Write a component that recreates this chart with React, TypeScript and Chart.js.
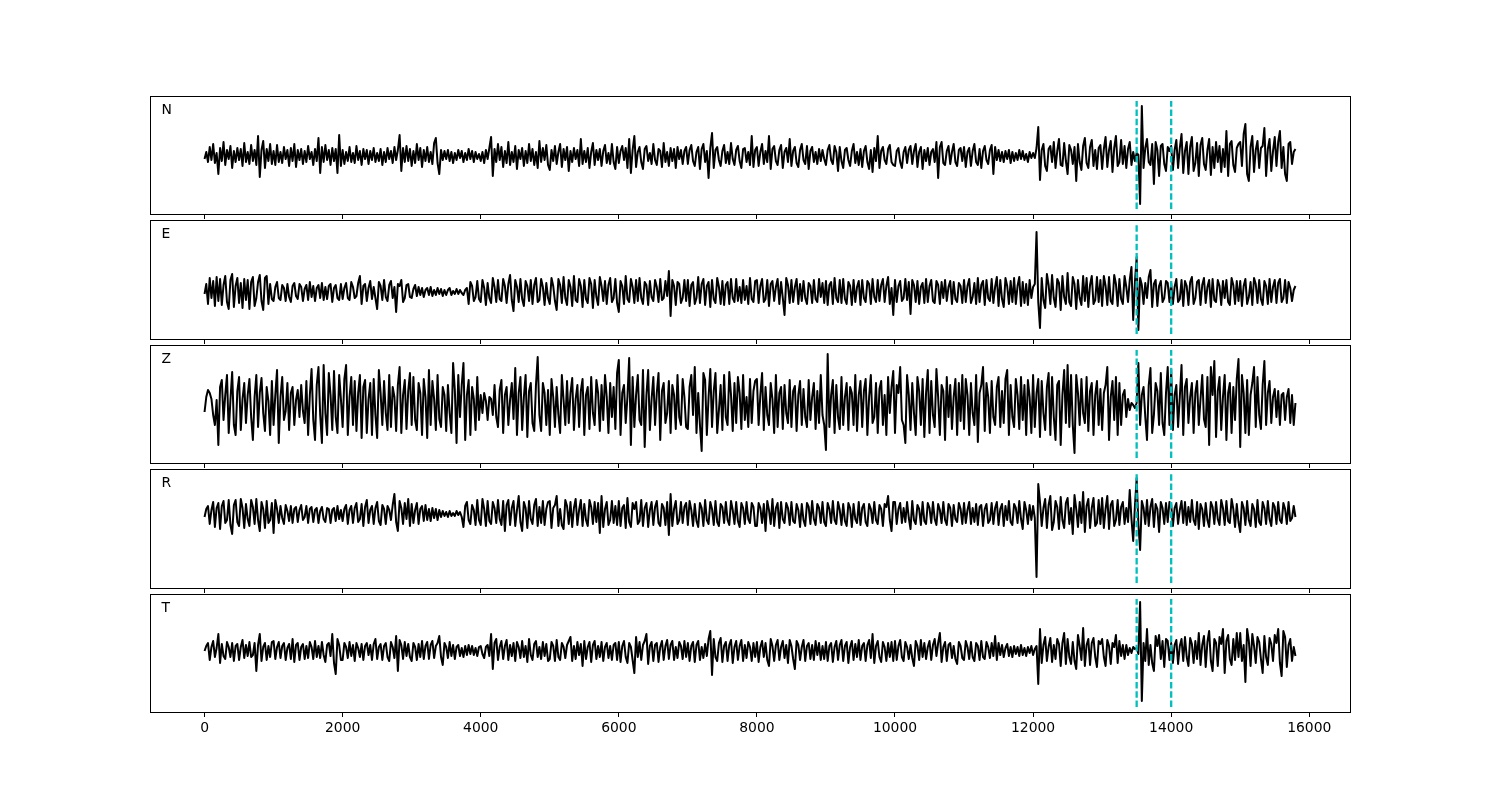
import React, { useEffect, useRef } from "react";
import { Chart, registerables } from "chart.js";

Chart.register(...registerables);

// ---- data ----
const SAMPLE_STEP = 25; // sample spacing along x (samples 0 .. 15800)
const X_MIN = -790;
const X_MAX = 16590;
const X_TICKS = [0, 2000, 4000, 6000, 8000, 10000, 12000, 14000, 16000];
const PICKS = [13500, 14000];
const PANEL_LABELS = ["N", "E", "Z", "R", "T"];

const TRACE_N = [
  -3, 4, -6, 9, -4, 12, -7, 3, -18, 8,
  -5, 14, -9, 6, -3, 10, -12, 5, -6, 8,
  -4, 7, -10, 13, -6, 4, -8, 11, -5, 6,
  -9, 20, -21, 6, 15, -12, 7, -5, 12, -8,
  5, -9, 11, -6, 4, -7, 9, -3, 6, -10,
  8, -5, 12, -11, 6, -4, 7, -8, 5, -6,
  10, -3, 4, -9, 7, -5, 18, -17, 9, -6,
  11, -4, 6, -9, 8, -5, 7, -17, 21, -10,
  6, -8, 4, -5, 9, -6, 3, -7, 10, -4,
  5, -9, 7, -3, 6, -8, 5, -4, 8, -6,
  3, -5, 7, -9, 4, -6, 8, -3, 5, -7,
  9, -4, 6, 21, -15, 8, -6, 10, -5, 7,
  -10, 5, -7, 12, -4, 8, -11, 6, -5, 9,
  -6, 4, -8, 13, 18, -7, -18, 6, -4, 5,
  -3, 6, -5, 4, -7, 3, -4, 6, -2, 5,
  -6, 3, -4, 7, -3, 5, -6, 4, -3, 2,
  -5, 4, -7, 6, -3, 8, 19, -20, 7, -6,
  12, -4, 9, -11, 5, -7, 14, -9, 4, -6,
  10, -13, 6, -3, 8, -10, 5, -7, 12, -5,
  7, -9, 4, -12, 15, -6, 8, -4, 11, -9,
  -14, 6, -5, 10, -8, 4, 12, -11, 7, -4,
  9, -15, 5, -6, 8, -3, 6, -10, 17, -8,
  5, -6, 8, -12, 4, 13, -9, 6, -4, 7,
  -10, 5, 11, -7, 3, -8, 12, -6, -13, 9,
  -7, 5, 10, -4, 8, -12, 17, -17, 6, 20,
  -11, 4, 9, -6, -13, 7, 10, -5, 3, -8,
  12, -4, -9, 7, 5, -11, 13, -6, 4, -10,
  8, -5, 7, -12, 9, -3, 6, -8, 5, 9,
  -8, 6, 11, -5, -10, 4, 9, -13, 7, 12,
  -6, 5, -22, 8, 23, -12, 6, 9, -4, -10,
  5, 11, -7, 4, -8, 13, -3, -9, 6, 10,
  -5, -12, 7, 8, -6, 4, -9, 20, -11, 6,
  9, -10, 4, 12, -8, 5, -6, 20, -13, 7,
  10, -5, -9, 6, 11, -12, 4, 8, -6, 17,
  -10, 5, 9, -7, -11, 6, 12, -4, -8, 10,
  -13, 5, 9, -6, 4, -8, 7, -5, 6, -3,
  -9, 6, 11, -4, -8, 10, 4, -15, 9, -5,
  -12, 6, 8, -4, -10, 5, 12, -7, 4, -9,
  7, -11, 5, 10, -6, -13, 6, -16, 8, -5,
  20, -12, 5, 9, -4, -8, 7, 11, -6, -9,
  -10, 5, 8, -6, -12, 4, 9, -7, 6, 10,
  -8, 5, 12, -11, 4, 9, -13, 6, -5, 8,
  -9, 4, 7, -6, 14, -22, 9, 14, -7, -9,
  5, 10, -8, 4, 12, -6, -10, 6, 8, -5,
  9, -11, 4, 8, -10, 5, 12, -6, -9, 7,
  -12, 5, 10, -4, -8, 6, 11, -18, 9, -4,
  6, -5, 4, -6, 5, -3, 6, -7, 4, -5,
  3, -4, 6, -3, 5, -4, 2, -6, 4, -2,
  3, -2, 8, 29, -24, 6, 12, -10, -15, 7,
  10, -6, 14, -12, 5, 17, -9, -10, 13, -5,
  -18, 11, 6, -8, 9, -25, 12, -6, -14, 10,
  18, -7, -12, 9, 16, -10, 6, -13, 8, 11,
  -13, 7, 19, -11, 6, 15, -16, 8, 20, -10,
  -6, 16, -8, 10, -12, 7, 14, -9, 4, -5,
  3, 1, -48, 50, -12, 8, 17, -6, -9, 12,
  -28, 14, 6, -20, 10, 12, -8, -15, 9, 5,
  10, -14, 6, 16, -12, 8, 22, -17, 5, 14,
  -18, 9, 19, -15, -7, 13, -20, 11, 18, -8,
  -14, 6, 17, -19, 9, -12, 14, -6, 10, -16,
  7, -11, 25, -20, 12, 15, -9, -16, 8, 12,
  14, -10, 22, 32, -18, -25, 9, 20, -16, 6,
  15, -12, 8, 10, 28, -20, 7, 17, -15, 5,
  19, -10, 14, 25, -12, 9, -18, -25, 12, 14,
  -8, 4, 7,
];

const TRACE_E = [
  -2, 8, -12, 14, -6, 11, -14, 15, -9, 13,
  -13, 7, 16, -10, -17, 12, 18, -15, 6, 14,
  -11, 9, -16, 13, -8, 12, -17, 10, 15, -14,
  -6, 10, 17, -9, -18, 14, 16, -12, 8, -7,
  -9, 5, 10, -6, -8, 7, 4, -9, 8, -5,
  -10, 6, 9, -4, -7, 8, 5, -9, 3, 7,
  -8, 10, -5, 6, -9, 4, 7, -6, 9, -8,
  5, -7, 6, 8, -10, 4, 7, -6, -8, 8,
  -7, 4, 9, -6, -8, 10, 5, -6, -4, 9,
  16, -12, 6, 8, -9, 4, 11, -7, 5, -6,
  -17, 10, 6, -8, 12, -5, -9, 7, 11, -6,
  5, -20, 8, 6, 12, -10, -6, 7, 8, -5,
  -6, 3, 7, -4, 5, -3, 4, -5, 2, 4,
  -3, 5, -4, 2, -3, 4, -2, 3, -4, 2,
  -3, 2, 4, -3, 1, -2, 3, -2, 2, -1,
  -3, 2, 4, -12, 10, 6, -9, -5, 11, -7,
  -10, 12, 4, -13, 9, -6, -11, 14, 5, -10,
  12, -7, -9, 13, 6, -11, 8, 17, -8, -19,
  12, 5, -10, 13, -7, -14, 11, 6, -9, 12,
  -12, 7, 14, -10, -8, 13, 5, -13, 9, -6,
  -12, 14, 6, -9, -18, 13, 7, -11, 15, -6,
  -13, 12, 5, -14, 16, -8, -10, 13, 6, -15,
  12, -7, -11, 14, 8, -16, 12, -5, -13, 15,
  6, -9, 11, -12, 7, 14, -10, -6, 13, -11,
  -20, 11, 6, -12, 16, -7, -10, 13, 5, -11,
  12, -9, 14, -6, -12, 10, 7, -13, 11, -5,
  -9, 12, 5, -10, 13, -8, -6, 11, -4, 21,
  -24, 12, 6, -13, 10, 8, -11, -6, 12, -9,
  12, -14, 7, 10, -12, -6, 15, -11, 8, 13,
  -13, 6, 10, -15, 12, -7, -11, 14, 5, -12,
  11, -13, 7, 10, -12, 13, -6, -10, 13, -9,
  5, -11, 12, -8, 6, -12, 14, -7, -10, 11,
  12, -11, 6, 13, -10, -7, 12, -14, 8, 11,
  -9, 5, 13, -12, 10, -6, -23, 14, 7, -11,
  12, -10, 5, 13, -12, 8, -9, 11, -6, -12,
  9, 6, -11, 12, -7, -10, 13, -5, 9, -11,
  11, -13, 7, 10, -12, 14, -6, -10, 12, -11,
  13, -7, -12, 10, 6, -13, 12, -10, 5, 11,
  -13, 12, -6, -10, 11, 8, -12, 13, -5, -10,
  12, -9, 7, 13, -10, 6, 15, -12, 4, -23,
  12, -10, 6, 11, -9, -6, 13, -8, 10, -22,
  12, 7, -10, 11, -12, 5, 9, -11, 13, -10,
  6, 12, -9, -11, 11, 7, -12, 10, -6, 12,
  -9, 5, 11, -12, 10, -7, -10, 9, 6, -11,
  12, -10, 6, 13, -11, -5, 9, -12, 14, -10,
  7, 11, -13, 12, -6, -9, 13, -11, 5, 15,
  -14, 12, -7, -15, 14, 6, -12, 11, -10, 14,
  -12, 6, 15, -14, 10, -11, 8, -13, 12, -6,
  5, 8, 60, -10, -36, 14, -8, -16, 18, 7,
  -12, 17, -6, -15, 13, 9, -18, 16, -5, -12,
  19, -10, -14, 15, 8, -17, 12, -6, -13, 16,
  -9, 14, -15, 7, 16, -12, -8, 15, -10, 12,
  -14, 16, 6, -13, 15, -9, -12, 17, 8, -14,
  13, -7, -12, 16, 5, -10, 12, 25, -28, 10,
  35, -38, 14, 7, -12, 9, -6, 15, 22, -15,
  8, 12, -14, 6, 11, -10, -6, 11, 9, -10,
  9, -12, 5, 13, -10, -7, 12, -14, 11, 6,
  -13, 10, 15, -12, -6, 10, 12, -13, 7, 14,
  -11, 5, 12, -15, 13, -8, -10, 12, 6, -13,
  11, -6, 12, -10, -13, 14, 7, -12, 11, -9,
  11, -14, 6, 13, -12, -5, 10, -13, 14, 8,
  -11, 12, -7, -13, 11, 6, -12, 13, -10, 5,
  12, -11, 9, 13, -10, -6, 12, -11, 10, 4,
  -9, 2, 6,
];

const TRACE_Z = [
  -7, 8, 15, 12, 6, -10, -20, 5, -40, 18,
  25, -15, 10, 30, -28, 5, 33, -20, -30, 14,
  28, -25, 6, 22, -18, 10, 26, -12, -35, 8,
  30, -22, 12, 27, -8, -26, 18, 4, -30, 24,
  -20, 10, 35, -38, 8, 28, -15, -6, 22, -25,
  12, 18, -20, 5, 15, -12, 20, -6, -18, 24,
  -30, 10, 36, -15, -35, 20, 38, -10, -38, 40,
  -8, -30, 32, 10, -25, 34, -12, -28, 30, 6,
  -22, 26, 40, -30, 8, 28, -20, 24, -26, 12,
  30, -33, 18, 25, -28, 6, 22, -30, 26, -10,
  -33, 35, 12, -20, 24, -8, -25, 30, -22, 18,
  8, -26, 20, 38, -28, 10, 25, -24, 14, 32,
  -20, 28, -15, -25, 22, 12, -30, 26, 8, -33,
  35, -20, 24, 6, -25, 30, -14, -22, 18, 10,
  -26, 20, -8, -28, 42, 15, -38, 30, -12, 20,
  42, -35, 10, 25, -30, 18, 6, -25, 28, -15,
  10, -8, 12, 4, -15, 8, 6, -10, 20, -12,
  -22, 15, 25, -28, 10, 18, -20, 5, 22, -14,
  37, -30, 12, 28, -25, 8, 30, -32, 14, 22,
  -18, -26, 20, 48, -10, -26, 22, 12, -20, 15,
  -30, 26, 8, -22, 18, -10, -28, 30, 5, -20,
  24, -18, 12, 27, -25, 6, 20, -22, 14, 26,
  -30, 10, 18, -24, 28, -8, -20, 25, 12, -26,
  20, -15, 30, 8, -28, 22, -12, 18, -24, 32,
  45, -30, 12, 20, -18, 8, 47, -40, 28, -22,
  10, 30, -15, -20, 35, -42, 10, 35, -25, 6,
  28, -20, 12, 32, -35, 14, 22, -18, -8, 24,
  -28, 20, 10, -24, 30, -12, -20, 26, 8, -22,
  -24, 18, 30, -10, 38, -28, 12, -20, -46, 32,
  25, -30, 8, 36, -22, 14, 32, -28, -5, 20,
  -25, 30, -12, -20, 33, 10, -26, 22, -18, 28,
  12, -24, 30, -15, 8, -22, 26, -18, 14, 24,
  26, -20, 10, 32, -25, 18, -10, -20, 22, 6,
  -28, 30, -22, 12, 18, -24, 20, -8, -18, 25,
  -22, 14, 19, -26, 10, 24, -20, 16, -12, -22,
  25, -15, 8, 22, -24, 14, -18, 30, -10, -20,
  -45, 51, -22, 10, 25, -28, 20, -12, -24, 28,
  -20, 8, 22, -25, 18, 12, -20, 30, -26, 10,
  24, -22, 14, 26, -30, 8, 30, -18, -12, 22,
  -28, 16, 24, -20, 10, -30, 28, -8, 18, 34,
  -28, 20, 12, 38, -15, -20, -38, 30, 10, -25,
  22, -8, -30, 28, 14, -20, 26, -32, 12, 35,
  -28, 24, -10, -22, 36, 8, -30, 20, 14, -35,
  28, -12, 20, -24, 8, 26, -30, 22, -16, 30,
  -24, 26, 10, -30, 22, -8, -20, 30, -37, 12,
  20, 38, -26, 22, 8, -28, 24, -12, -20, 18,
  28, -22, 14, -18, 26, 35, -30, 20, -12, -22,
  26, 10, -24, 28, -15, 20, -30, 25, 8, -28,
  30, -22, 12, 26, -32, 24, -8, -25, 18, 32,
  -30, 28, -12, -35, 20, 24, -40, 10, 35, -18,
  40, -22, 30, -20, -48, 30, 12, -20, 26, -8,
  -18, 28, -26, 14, 22, -30, 10, 24, -20, 16,
  -25, 12, 20, 38, -35, 8, 24, -15, 28, -30,
  22, -20, 10, 15, -12, 6, -5, 2, 0, -3,
  2, 42, -20, 10, 18, -12, -35, 20, 37, -28,
  -10, 22, 14, -20, 32, -18, -30, 12, 38, -20,
  36, -25, 10, 20, -22, 8, 40, -30, 18, 26,
  -18, 8, 22, -28, 12, 24, -20, 6, 30, -14,
  -22, 28, -40, 38, 10, 44, -32, 14, 28, -25,
  8, 30, -35, 12, 22, -28, 18, -15, 26, 46,
  -42, 30, 12, -28, 25, -30, 10, 22, 38, -22,
  28, -10, -24, 20, 44, -20, 12, 24, -18, 8,
  16, -12, 14, -20, 10, 12, -15, 8, 16, -18,
  10, -20, 2,
];

const TRACE_R = [
  -3, 5, 8, -10, 4, 12, -13, 6, 11, -15,
  8, 13, -9, -6, 14, -11, -20, 9, 14, -8,
  -12, 15, 6, -14, 10, -5, -12, 14, 7, -10,
  15, -6, -17, 12, 5, -14, 13, -9, -6, 11,
  -19, 14, 5, -9, 8, -4, -10, 9, 3, -7,
  8, -9, 5, 7, -8, 4, 9, -6, -3, 8,
  -9, 5, 7, -8, 4, 6, -9, 3, 7, -5,
  -8, 6, 5, -9, 4, 6, -7, 8, -5, 4,
  -7, 5, 9, -10, 4, 8, -9, 6, 11, -8,
  -5, 10, -12, 7, 14, -9, 4, 8, -10, 6,
  12, -7, -11, 9, 5, -10, 8, 4, -6, 9,
  20, -8, -17, 13, 6, -10, 11, -5, 15, -12,
  10, -9, 4, 11, -10, 5, 8, -7, 9, -6,
  5, -7, 6, -4, 5, -6, 4, -3, 3, -2,
  2, -3, 3, -2, 1, -2, 3, -1, 2, -3,
  -13, 8, 12, -6, -10, 9, 4, -11, 14, -6,
  -11, 15, 5, -12, 13, -7, -10, 12, 6, -9,
  14, -5, -11, 13, -17, 9, 14, -11, 6, 13,
  -12, 4, 18, -8, -17, 12, 6, -14, 13, -5,
  -10, 9, 15, -12, 7, -9, 13, -11, 5, 12,
  13, -14, 6, 9, 18, -12, 5, -11, -15, 14,
  8, -10, 12, -13, 6, 15, -11, 4, 14, -12,
  10, -6, -12, 14, 7, -10, 12, -8, 11, -19,
  18, -13, 5, 12, -11, -6, 13, -9, 8, -11,
  13, -12, 6, 9, -14, 16, -8, -13, 11, 5,
  12, -10, -7, 14, -12, 6, 11, -13, 4, 12,
  -11, 7, 13, -9, -12, 10, 6, -11, 12, -21,
  20, -12, 5, 13, -10, -6, 12, -9, 7, 11,
  -11, 13, 4, -12, 10, -7, -13, 11, 6, -12,
  14, -6, -10, 12, 5, -11, 13, -8, -12, 10,
  7, -9, 12, -6, -11, 13, 4, -10, 12, -7,
  -13, 11, 6, -10, 12, -5, -9, 11, 7, -12,
  -12, 11, 6, -9, 10, -17, 13, 4, -10, 15,
  -12, 6, 11, -14, 12, -5, -9, 11, 6, -11,
  12, -7, -9, 10, 4, -13, 10, -6, -12, 11,
  7, -10, 13, -5, -11, 10, 6, -9, 12, -8,
  -12, 11, 5, -9, 13, -6, -10, 12, 4, -11,
  10, -7, -12, 11, 6, -13, 10, -5, -9, 12,
  -11, 6, 10, -8, -12, 10, 5, -9, 12, -6,
  -10, 9, 5, -12, 10, 7, 18, -6, -17, 12,
  12, -10, 5, 11, -9, 6, -8, 12, -4, -15,
  13, -6, -10, 9, 5, -11, 12, -7, -10, 11,
  6, -9, 12, -5, -11, 10, 4, -9, 12, -6,
  -11, 10, 6, -12, 9, -5, -8, 11, 5, -10,
  11, -9, 4, 12, -10, 6, -8, 10, -11, 7,
  9, -12, 5, 10, -9, -6, 11, -10, 6, 12,
  -11, 5, 10, -12, 8, -6, 13, -8, -11, 10,
  6, -9, 13, -5, -15, 12, 4, -10, 9, -6,
  8, -4, -63, 30, 12, -12, 6, 15, -14, 9,
  18, -16, -8, 13, 7, -15, 17, -6, -14, 11,
  16, -10, 6, -20, 19, 5, -13, 12, -9, 22,
  -18, 8, 15, -14, 6, 16, -12, -9, 14, -10,
  16, -14, 5, 18, -15, 9, 13, -12, -6, 14,
  -11, 7, 12, -10, 6, -8, 24, -5, -27, 8,
  36, -10, -36, 13, 6, -10, 14, -12, 7, 15,
  -13, 10, 5, -18, 12, 6, -10, 11, -8, 12,
  10, -12, 6, 11, -10, 4, 13, -9, 12, -11,
  7, -8, 14, -6, -11, 12, -15, 10, 5, -12,
  11, -6, -13, 12, 7, -10, 12, -5, -11, 14,
  6, -11, 13, -7, -9, 15, 5, -13, 10, -8,
  -18, 12, 6, -11, 13, -6, -12, 10, 5, -13,
  14, -8, -11, 12, 6, -10, 13, -5, -12, 11,
  7, -10, 12, -6, -9, 11, 5, -10, 12, -7,
  -4, 8, -3,
];

const TRACE_T = [
  0, 5, 8, -9, 4, 10, -6, 3, 17, -12,
  7, -5, -8, 9, 4, -6, 8, -10, 5, 7,
  -9, 4, 11, -7, 6, -5, 9, -6, -4, 8,
  -20, 6, 17, -10, 4, 8, -9, 5, -6, 9,
  10, -8, 4, 9, -7, 5, 8, -9, 3, 7,
  -8, 12, -11, 6, 8, -9, 4, 7, -8, 5,
  -7, 9, 4, -8, 10, -6, 5, -7, 9, -4,
  -11, 6, 8, -5, 17, -12, -23, 12, 6, -9,
  -9, 8, 4, -7, 9, -5, 6, -10, 8, 3,
  -6, 7, -9, 5, 8, -4, 6, -9, 7, 12,
  -8, 4, 7, -9, 5, 8, -6, -10, 9, 4,
  -7, 15, -20, 11, 6, -8, 9, -5, 7, -6,
  -10, 8, 4, -9, 7, -6, 10, -8, 5, 9,
  -8, 6, 10, -7, 5, 8, 15, -6, -14, 8,
  4, -7, 9, -5, 6, -8, 4, 6, -5, 3,
  -6, 5, -4, 6, -3, 5, -4, 3, -5, 4,
  5, -3, -7, 4, 6, -5, 17, -18, 8, 12,
  -9, 4, 10, -8, 5, 11, -9, 6, -5, 8,
  -10, 9, 4, -7, 10, -6, 5, -11, 12, -4,
  -9, 7, 10, -6, 4, -8, 9, -5, 7, -10,
  -8, 9, 5, -10, 11, -6, -9, 8, 4, -7,
  6, 10, 14, -10, 5, -8, 9, -4, 7, -15,
  10, -8, 4, 9, -11, 6, 10, -8, 5, -6,
  9, -10, 4, 8, -7, 5, -9, 6, 8, -9,
  9, -11, 5, 10, -6, -12, 8, 4, -9, -22,
  14, -6, 9, -9, 6, 10, 17, -13, 5, 9,
  -10, 6, 8, -11, 4, 10, -9, 5, 11, -8,
  6, 10, -9, 4, -7, 9, 5, -8, 10, -6,
  8, -10, 5, 9, -11, 6, 10, -9, 4, -7,
  7, -5, 12, 20, -24, 12, -6, -10, 8, 13,
  -11, 5, 9, -10, 6, 11, -12, 4, 10, -9,
  5, 11, -10, 6, -7, 9, 4, -10, 8, -6,
  9, -11, 4, 10, -6, 8, -9, -15, 12, 5,
  -10, 6, 11, -9, 4, 10, -7, 6, -12, 11,
  5, -8, -18, 10, 6, -9, 4, 11, -10, 5,
  8, -8, 6, -9, 10, -4, 8, -9, 5, -8,
  9, -10, 5, 8, -11, 4, 10, -9, 6, 11,
  -10, 5, 9, -12, 4, 10, -9, 7, -6, 11,
  -9, 5, 8, -10, 6, 11, -7, 17, -12, 5,
  10, -6, -11, 9, 4, -10, 8, -6, 9, -10,
  10, -9, 5, 11, -6, -10, 9, 4, -8, 6,
  -7, -15, 10, 5, -9, 11, -6, 8, -8, 4,
  10, -9, 6, 12, -5, 8, 18, -11, 4, 9,
  -10, 6, 8, -7, 5, -8, -13, 9, 5, -7,
  -9, 10, 4, -8, 9, -6, -10, 8, 5, -9,
  10, -6, -8, 9, 4, -7, 8, -5, 15, -9,
  8, -4, 6, -6, 3, 7, -5, 4, -6, 5,
  -3, 4, -5, 6, -4, 3, -5, 4, -2, 5,
  -4, 2, 5, -33, 22, -12, 6, 14, -10, 4,
  13, -11, 6, -8, 12, 7, -15, 8, 18, -13,
  12, -6, -13, 9, -10, -18, 16, 5, -9, 23,
  -15, 6, 12, -14, 8, 13, -6, -16, 10, 7,
  12, -6, -15, 11, 5, -13, 8, 4, 16, -12,
  10, -5, 6, -8, 6, -4, 3, -2, 4, 2,
  3, -3, 49, -50, 8, -10, 22, -14, 6, -12,
  -20, 15, 5, 16, -8, 10, -16, 12, 10, -9,
  8, -12, 6, 11, -13, 5, 12, -10, 14, -6,
  -15, 13, 7, -12, 10, -8, 18, -14, 6, 15,
  -16, 9, 20, -10, -20, 12, 8, -15, 14, 7,
  22, -22, 10, 16, -8, -14, 12, -9, 18, -6,
  18, -10, 6, -31, 22, 10, -15, 17, 5, -12,
  14, 9, -8, -22, 15, -6, -14, 13, 7, -10,
  16, 8, 22, -12, -25, 20, 14, -16, 6, 12,
  -10, 4, -5,
];

const TRACES = [TRACE_N, TRACE_E, TRACE_Z, TRACE_R, TRACE_T];
const Y_MINS = [-58, -47, -58, -74, -61];
const Y_MAXS = [60, 72, 60, 45, 57];

// ---- layout ----
const PANEL_TOPS = [96, 220, 345, 469, 594];
const PANEL_HEIGHTS = [118, 119, 118, 119, 118];
const AXIS_SPACE = 30;
const FONT = '"DejaVu Sans", "Liberation Sans", sans-serif';

type PanelProps = {
  label: string;
  values: number[];
  yMin: number;
  yMax: number;
  top: number;
  height: number;
  showLabels: boolean;
};

function Panel({ label, values, yMin, yMax, top, height, showLabels }: PanelProps) {
  const ref = useRef<HTMLCanvasElement | null>(null);

  useEffect(() => {
    if (!ref.current) return;
    const trace = values.map((v, i) => ({ x: i * SAMPLE_STEP, y: v }));
    const pickSets = PICKS.map((p) => ({
      data: [
        { x: p, y: yMin + 5 },
        { x: p, y: yMax - 5 },
      ],
      borderColor: "#00bfbf",
      borderWidth: 2.3,
      borderDash: [6.5, 2.8],
      borderCapStyle: "butt",
      pointRadius: 0,
      fill: false,
      order: 0,
    }));
    const frame = {
      id: "frame" + label,
      afterDraw(chart: any) {
        const { ctx, chartArea: a } = chart;
        ctx.save();
        ctx.strokeStyle = "#000";
        ctx.lineWidth = 1;
        ctx.strokeRect(a.left + 0.5, a.top + 0.5, a.right - a.left, a.bottom - a.top);
        ctx.fillStyle = "#000";
        ctx.font = "13.9px " + FONT;
        ctx.textBaseline = "alphabetic";
        ctx.textAlign = "left";
        ctx.fillText(label, a.left + 11.5, a.top + 17.5);
        ctx.restore();
      },
    };
    const chart = new Chart(ref.current, {
      type: "line",
      data: {
        datasets: [
          ...pickSets,
          {
            data: trace,
            borderColor: "#000",
            borderWidth: 2,
            borderJoinStyle: "round",
            pointRadius: 0,
            tension: 0,
            fill: false,
            order: 1,
          },
        ] as any,
      },
      options: {
        animation: false,
        responsive: false,
        maintainAspectRatio: false,
        layout: { padding: { left: 150, right: 150, top: 0, bottom: 0 } },
        plugins: { legend: { display: false }, tooltip: { enabled: false } },
        scales: {
          x: {
            type: "linear",
            min: X_MIN,
            max: X_MAX,
            position: "bottom",
            afterBuildTicks: (s: any) => {
              s.ticks = X_TICKS.map((v) => ({ value: v }));
            },
            afterFit: (s: any) => {
              s.height = AXIS_SPACE;
            },
            border: { display: false },
            grid: {
              display: true,
              drawOnChartArea: false,
              drawTicks: true,
              tickLength: 5,
              color: "#000",
              lineWidth: 1,
            },
            ticks: {
              display: showLabels,
              color: "#000",
              font: { family: FONT, size: 13.9 },
              padding: 3,
              maxRotation: 0,
              autoSkip: false,
              callback: (v: any) => String(v),
            },
          },
          y: { type: "linear", display: false, min: yMin, max: yMax },
        },
      } as any,
      plugins: [frame],
    });
    return () => chart.destroy();
  }, [label, values, yMin, yMax, showLabels]);

  return (
    <canvas
      ref={ref}
      width={1500}
      height={height + AXIS_SPACE}
      style={{
        position: "absolute",
        left: 0,
        top,
        width: 1500,
        height: height + AXIS_SPACE,
        display: "block",
      }}
    />
  );
}

export default function App() {
  return (
    <div
      style={{
        position: "absolute",
        left: 0,
        top: 0,
        width: 1500,
        height: 800,
        background: "#fff",
        overflow: "hidden",
      }}
    >
      {PANEL_LABELS.map((lab, i) => (
        <Panel
          key={lab}
          label={lab}
          values={TRACES[i]}
          yMin={Y_MINS[i]}
          yMax={Y_MAXS[i]}
          top={PANEL_TOPS[i]}
          height={PANEL_HEIGHTS[i]}
          showLabels={i === PANEL_LABELS.length - 1}
        />
      ))}
    </div>
  );
}
